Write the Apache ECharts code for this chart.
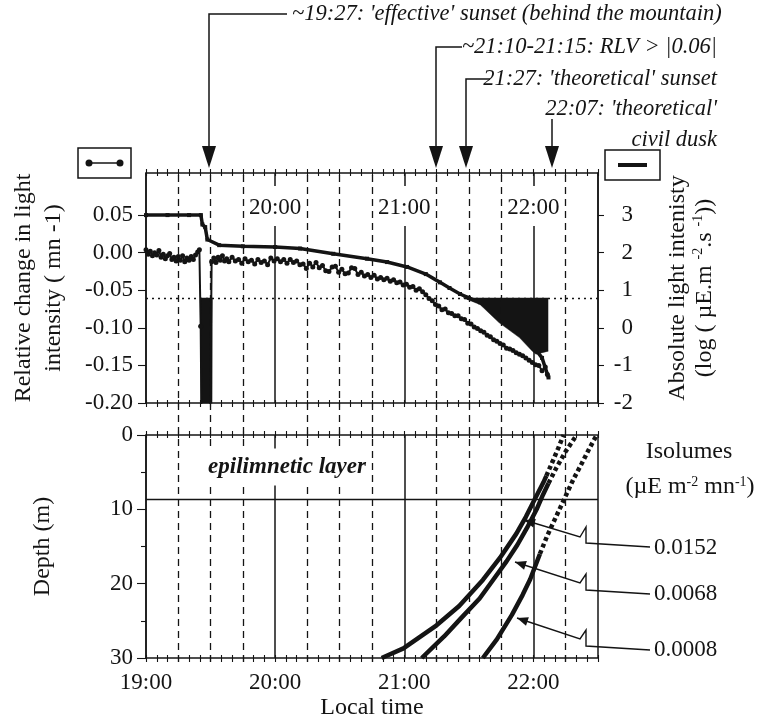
<!DOCTYPE html>
<html>
<head>
<meta charset="utf-8">
<script src="https://cdn.jsdelivr.net/npm/echarts@6/dist/echarts.min.js"></script>
<style>
  html, body { margin: 0; padding: 0; background: #fff; }
  #chart { width: 765px; height: 721px; }
</style>
</head>
<body>
<div id="chart"></div>
<script>
// time is in minutes after 19:00
const hourMarks = [60, 120, 180];
const quarterLines = [15, 30, 45, 75, 90, 105, 135, 150, 165, 195];

// upper panel - relative change in light intensity (left axis)
const relTime = [
  0, 1, 2, 3, 4, 5, 6, 7, 8, 9,
  10, 11, 12, 13, 14, 15, 16, 17, 18, 19,
  20, 21, 22, 23, 24, 24.8, 25.4, 26, 29.5, 30.5,
  31.5, 32.5, 33.5, 34.5, 35.5, 36.5, 37.5, 38.5, 40, 41.5,
  43, 44.5, 46, 47.5, 49, 50.5, 52, 53.5, 55, 56.5,
  58, 59.5, 61, 62.5, 64, 65.5, 67, 68.5, 70, 71.5,
  73, 74.5, 76, 77.5, 79, 80.5, 82, 83.5, 85, 86.5,
  88, 89.5, 91, 92.5, 94, 95.5, 97, 98.5, 100, 101.5,
  103, 104.5, 106, 107.5, 109, 110.5, 112, 113.5, 115, 116.5,
  118, 119.5, 121, 122.5, 124, 125.5, 127, 128.5, 130, 131.5,
  133, 134.5, 136, 137.5, 139, 140.5, 142, 143.5, 145, 146.5,
  148, 149.5, 151, 152.5, 154, 155.5, 157, 158.5, 160, 161.5,
  163, 164.5, 166, 167.5, 169, 170.5, 172, 173.5, 175, 176.5,
  178, 179.5, 181, 182.5, 184, 185.5, 186.5
];
const relValue = [
  0.004, -0.002, 0.002, -0.004, 0.000, -0.003, 0.003, -0.006, -0.002, -0.008,
  -0.004, -0.001, -0.009, -0.006, -0.011, -0.005, -0.010, -0.004, -0.012, -0.007,
  -0.010, -0.005, -0.009, -0.003, 0.001, 0.004, -0.098, -0.30, -0.30, -0.012,
  -0.007, -0.013, -0.006, -0.010, -0.004, -0.011, -0.008, -0.012, -0.006, -0.011,
  -0.009, -0.014, -0.008, -0.012, -0.010, -0.015, -0.009, -0.013, -0.011, -0.016,
  -0.007, -0.011, -0.008, -0.012, -0.009, -0.014, -0.009, -0.013, -0.011, -0.016,
  -0.015, -0.021, -0.014, -0.019, -0.013, -0.020, -0.017, -0.024, -0.025, -0.019,
  -0.018, -0.026, -0.022, -0.028, -0.027, -0.020, -0.021, -0.029, -0.026, -0.031,
  -0.029, -0.033, -0.030, -0.035, -0.033, -0.036, -0.034, -0.038, -0.036, -0.040,
  -0.039, -0.043, -0.042, -0.046, -0.045, -0.050, -0.048, -0.052, -0.056, -0.061,
  -0.064, -0.069, -0.071, -0.076, -0.075, -0.080, -0.081, -0.084, -0.084, -0.088,
  -0.089, -0.094, -0.095, -0.099, -0.101, -0.104, -0.106, -0.110, -0.112, -0.116,
  -0.118, -0.121, -0.123, -0.127, -0.128, -0.130, -0.133, -0.135, -0.137, -0.140,
  -0.143, -0.146, -0.149, -0.150, -0.157, -0.152, -0.162
];

// upper panel - absolute light intensity, log (right axis)
const absTime = [0, 10, 20, 25.5, 26.2, 27.5, 28.5, 34, 45, 60,
  71.6, 87, 102.7, 112, 121.3, 130, 136.6, 141, 145.9, 150,
  155.2, 162, 168, 174, 180, 184, 187];
const absValue = [3.0, 3.0, 3.0, 3.0, 2.75, 2.68, 2.35, 2.2, 2.17, 2.15,
  2.11, 1.97, 1.84, 1.75, 1.62, 1.43, 1.21, 1.06, 0.90, 0.80,
  0.68, 0.40, 0.15, -0.15, -0.5, -0.8, -1.32];

// black area where RLV goes past the threshold
const rlvThreshold = -0.06;
const fillTime = [25.4, 25.6, 30.6, 30.8, 90, 147.3, 155.2, 164, 173.5, 179.5, 181.2, 186.9];
const fillValue = [-0.06, -0.3, -0.3, -0.06, null, -0.06, -0.069, -0.093, -0.113, -0.131, -0.135, -0.131];

// lower panel - isolumes (depth in m)
const isoNames = ['0.0152', '0.0068', '0.0008'];
const isoSolidTime = [
  [109.5, 119.6, 135, 145.5, 156.5, 164.5, 172, 176.5, 180.5, 184.6, 186],
  [128.1, 138.5, 146.5, 155, 162, 167.5, 172.5, 177, 181.5, 184.5, 187],
  [156.5, 163, 170, 175, 178.5, 183]
];
const isoSolidDepth = [
  [30, 28.7, 25.6, 23, 19.5, 16.5, 13.3, 11, 8.7, 6.4, 5.5],
  [30, 27.1, 24.6, 22, 19.2, 17, 14.8, 12.5, 10, 8, 6.5],
  [30, 27.5, 24.2, 21.5, 19.4, 16]
];
const isoDotTime = [
  [186, 189, 191.5, 194],
  [187, 190.5, 195, 200.1],
  [183, 186.5, 190.5, 194.5, 198.5, 202.5, 206, 209.4]
];
const isoDotDepth = [
  [5.5, 3.5, 1.8, 0],
  [6.5, 4.5, 2.2, 0],
  [16, 13.5, 11, 8.5, 6, 3.8, 1.8, 0]
];
const epiDepth = 8.7;

const relTicks = [-0.2, -0.15, -0.1, -0.05, 0, 0.05];
const absTicks = [-2, -1, 0, 1, 2, 3];

const FONT = '"Liberation Serif", serif';
const INK = '#141414';
const zip = (a, b) => a.map((x, i) => [x, b[i]]);
const clock = m => (19 + m / 60) + ':00';

const chart = echarts.init(document.getElementById('chart'));

const frameLine = { show: true, onZero: false, lineStyle: { color: INK, width: 1.5 } };
const tickStyle = { color: INK, width: 1.1 };

function timeAxis(gridIndex, position, extra) {
  return Object.assign({
    type: 'value', gridIndex: gridIndex, position: position, min: 0, max: 210,
    axisLine: { show: false, onZero: false },
    axisTick: { show: false },
    axisLabel: { show: false },
    splitLine: { show: false }
  }, extra);
}
const outTicks = { show: true, length: 4, lineStyle: tickStyle };
const inTicks = { show: true, inside: true, length: 3, lineStyle: tickStyle };
const labelFont = { fontSize: 23, fontFamily: FONT, color: INK };

const xAxes = [
  // upper panel frame (0-3)
  timeAxis(0, 'bottom', { interval: 5, axisLine: frameLine, axisTick: outTicks }),
  timeAxis(0, 'bottom', { interval: 5, axisTick: inTicks }),
  timeAxis(0, 'top', { interval: 5, axisLine: frameLine, axisTick: outTicks }),
  timeAxis(0, 'top', { interval: 5, axisTick: inTicks }),
  // upper panel hour lines and labels (4)
  timeAxis(0, 'top', {
    interval: 60,
    splitLine: { show: true, lineStyle: { color: INK, width: 1.5 } },
    axisLabel: Object.assign({
      show: true, inside: true, margin: 13, showMinLabel: false, showMaxLabel: false,
      formatter: clock, backgroundColor: '#fff', padding: [10, 2, 7, 2]
    }, labelFont)
  }),
  // lower panel frame (5-8)
  timeAxis(1, 'bottom', { interval: 5, axisLine: frameLine, axisTick: outTicks }),
  timeAxis(1, 'bottom', { interval: 5, axisTick: inTicks }),
  timeAxis(1, 'top', { interval: 5, axisLine: frameLine, axisTick: outTicks }),
  timeAxis(1, 'top', { interval: 5, axisTick: inTicks }),
  // lower panel hour lines, labels, name (9)
  timeAxis(1, 'bottom', {
    interval: 60,
    splitLine: { show: true, lineStyle: { color: INK, width: 1.5 } },
    axisLabel: Object.assign({ show: true, margin: 13, showMaxLabel: false, formatter: clock }, labelFont),
    name: 'Local time', nameLocation: 'middle', nameGap: 38,
    nameTextStyle: { fontSize: 24, fontFamily: FONT, color: INK }
  }),
  // both panels: quarter-hour dashed lines (10)
  timeAxis(2, 'bottom', { show: false })
];

const yAxes = [
  {
    type: 'value', gridIndex: 0, position: 'left', min: -0.2, max: 0.106,
    axisLine: frameLine,
    axisTick: { show: true, length: 8, customValues: relTicks, lineStyle: tickStyle },
    axisLabel: Object.assign({ customValues: relTicks, margin: 13, formatter: v => v.toFixed(2) }, labelFont),
    splitLine: { show: false },
    name: 'Relative change in light\nintensity ( mn -1)',
    nameLocation: 'middle', nameRotate: 90, nameGap: 77,
    nameTextStyle: { fontSize: 24, fontFamily: FONT, color: INK, lineHeight: 30 }
  },
  {
    type: 'value', gridIndex: 0, position: 'right', min: -2, max: 4.12,
    axisLine: frameLine,
    axisTick: { show: true, length: 6, customValues: absTicks, lineStyle: tickStyle },
    axisLabel: Object.assign({ customValues: absTicks, margin: 35, align: 'right' }, labelFont),
    splitLine: { show: false },
    name: 'Absolute light intenisty\n(log ( µE.m {s|-2}.s {s|-1}))',
    nameLocation: 'middle', nameRotate: 90, nameGap: 66,
    nameTextStyle: {
      fontSize: 24, fontFamily: FONT, color: INK, lineHeight: 27,
      rich: { s: { fontSize: 14, fontFamily: FONT, color: INK, verticalAlign: 'top' } }
    }
  },
  {
    type: 'value', gridIndex: 1, position: 'left', inverse: true, min: 0, max: 30, interval: 10,
    axisLine: frameLine,
    axisTick: { show: true, length: 9, lineStyle: tickStyle },
    minorTick: { show: true, splitNumber: 2, length: 5, lineStyle: tickStyle },
    axisLabel: Object.assign({ margin: 13 }, labelFont),
    splitLine: { show: false },
    name: 'Depth (m)', nameLocation: 'middle', nameRotate: 90, nameGap: 91,
    nameTextStyle: { fontSize: 24, fontFamily: FONT, color: INK }
  },
  { type: 'value', gridIndex: 2, min: 0, max: 1, show: false }
];

const noLabel = { show: false };
const series = [
  {
    type: 'line', xAxisIndex: 10, yAxisIndex: 3, data: [], silent: true, z: 1,
    markLine: {
      silent: true, symbol: ['none', 'none'], label: noLabel,
      lineStyle: { color: INK, width: 1.3, type: [7, 5] },
      data: quarterLines.map(m => ({ xAxis: m }))
    }
  },
  {
    name: 'Absolute light', type: 'line', xAxisIndex: 4, yAxisIndex: 1,
    data: zip(absTime, absValue), symbol: 'rect', symbolSize: 4,
    itemStyle: { color: INK }, lineStyle: { color: INK, width: 3.5 }, z: 3
  },
  {
    name: 'RLV past threshold', type: 'line', xAxisIndex: 4, yAxisIndex: 0,
    data: zip(fillTime, fillValue), symbol: 'none',
    lineStyle: { color: INK, width: 0.5 },
    areaStyle: { color: INK, opacity: 1, origin: rlvThreshold }, z: 4
  },
  {
    name: 'Relative change', type: 'line', xAxisIndex: 4, yAxisIndex: 0,
    data: zip(relTime, relValue), symbol: 'circle', symbolSize: 5,
    itemStyle: { color: INK }, lineStyle: { color: INK, width: 2 }, z: 5,
    markLine: {
      silent: true, symbol: ['none', 'none'], label: noLabel,
      lineStyle: { color: INK, width: 1.3, type: [2, 4] },
      data: [{ yAxis: rlvThreshold }]
    }
  }
];

isoNames.forEach((name, i) => {
  series.push({
    name: name, type: 'line', xAxisIndex: 9, yAxisIndex: 2,
    data: zip(isoSolidTime[i], isoSolidDepth[i]), symbol: 'none',
    lineStyle: { color: INK, width: 4.5 }, z: 3,
    markLine: i === 0 ? {
      silent: true, symbol: ['none', 'none'], label: noLabel,
      lineStyle: { color: INK, width: 1.4, type: 'solid' },
      data: [{ yAxis: epiDepth }]
    } : undefined
  });
  series.push({
    name: name + ' (extrapolated)', type: 'line', xAxisIndex: 9, yAxisIndex: 2,
    data: zip(isoDotTime[i], isoDotDepth[i]), symbol: 'none',
    lineStyle: { color: INK, width: 4.5, type: [4, 3] }, z: 3
  });
});

// arrow head helper for the annotation leaders
function head(tip, from, len, half) {
  const dx = tip[0] - from[0], dy = tip[1] - from[1];
  const d = Math.hypot(dx, dy), ux = dx / d, uy = dy / d;
  const bx = tip[0] - ux * len, by = tip[1] - uy * len;
  return {
    type: 'polygon', z: 100,
    shape: { points: [tip, [bx - uy * half, by + ux * half], [bx + uy * half, by - ux * half]] },
    style: { fill: INK }
  };
}
function poly(points, width) {
  return { type: 'polyline', z: 100, shape: { points: points }, style: { stroke: INK, lineWidth: width || 1.5, fill: null } };
}
function text(x, y, str, font, align, extra) {
  return {
    type: 'text', x: x, y: y, z: 100,
    style: Object.assign({ text: str, font: font, fill: INK, align: align || 'left', verticalAlign: 'middle' }, extra)
  };
}
const italic = 'italic 22.5px ' + FONT;
const plain = '23px ' + FONT;

const graphics = [
  // top annotations
  text(292, 14, "~19:27: 'effective' sunset (behind the mountain)", italic, 'left'),
  text(717, 47, '~21:10-21:15: RLV > |0.06|', italic, 'right'),
  text(717, 79, "21:27: 'theoretical' sunset", italic, 'right'),
  text(717, 109, "22:07: 'theoretical'", italic, 'right'),
  text(717, 140, 'civil dusk', italic, 'right'),
  poly([[287, 14], [209, 14], [209, 150]]),
  head([209, 168], [209, 140], 22, 7),
  poly([[462, 47], [436, 47], [436, 150]]),
  head([436, 168], [436, 140], 22, 7),
  poly([[490, 79], [466, 79], [466, 150]]),
  head([466, 168], [466, 140], 22, 7),
  poly([[552, 119], [552, 150]]),
  head([552, 168], [552, 140], 22, 7),
  // axis keys
  { type: 'rect', z: 100, shape: { x: 78, y: 148, width: 53, height: 30 }, style: { fill: '#fff', stroke: INK, lineWidth: 1.5 } },
  { type: 'line', z: 101, shape: { x1: 89, y1: 163, x2: 120, y2: 163 }, style: { stroke: INK, lineWidth: 1.5 } },
  { type: 'circle', z: 101, shape: { cx: 89, cy: 163, r: 3.5 }, style: { fill: INK } },
  { type: 'circle', z: 101, shape: { cx: 120, cy: 163, r: 3.5 }, style: { fill: INK } },
  { type: 'rect', z: 100, shape: { x: 605, y: 150, width: 55, height: 30 }, style: { fill: '#fff', stroke: INK, lineWidth: 1.5 } },
  { type: 'line', z: 101, shape: { x1: 618, y1: 165, x2: 647, y2: 165 }, style: { stroke: INK, lineWidth: 4 } },
  // lower panel texts
  text(287, 467, 'epilimnetic layer', 'italic bold 23px ' + FONT, 'center', { backgroundColor: '#fff', padding: [7, 3] }),
  text(689, 452, 'Isolumes', '24px ' + FONT, 'center'),
  text(690, 487, '(µE m{s|-2} mn{s|-1})', '24px ' + FONT, 'center', {
    rich: { s: { fontSize: 14, fontFamily: FONT, fill: INK, verticalAlign: 'top' } }
  }),
  text(654, 548, isoNames[0], plain, 'left'),
  text(654, 594, isoNames[1], plain, 'left'),
  text(654, 650, isoNames[2], plain, 'left'),
  poly([[524, 520], [580, 537], [586, 527], [586, 543], [650, 547]], 1.4),
  head([524, 520], [580, 537], 11, 4.5),
  poly([[515, 562], [580, 583], [586, 574], [586, 590], [650, 594]], 1.4),
  head([515, 562], [580, 583], 11, 4.5),
  poly([[517, 618], [580, 639], [586, 630], [586, 646], [650, 650]], 1.4),
  head([517, 618], [580, 639], 11, 4.5)
];

chart.setOption({
  animation: false,
  backgroundColor: '#fff',
  grid: [
    { left: 146, right: 167, top: 173, height: 230 },
    { left: 146, right: 167, top: 435, height: 227 },
    { left: 146, right: 167, top: 173, height: 489 }
  ],
  xAxis: xAxes,
  yAxis: yAxes,
  series: series,
  graphic: graphics
});
</script>
</body>
</html>
